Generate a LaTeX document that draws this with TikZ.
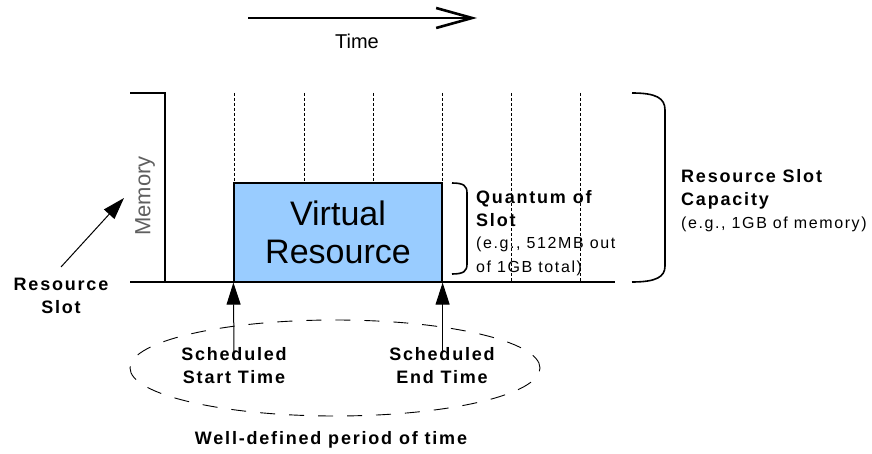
\documentclass[tikz,border=0pt]{standalone}
\usepackage{fontspec}
\setmainfont{Liberation Sans}
\newfontfamily\spacedfont[LetterSpace=10]{Liberation Sans}
\usetikzlibrary{arrows.meta,shapes.geometric}
\definecolor{boxblue}{RGB}{153,204,255}
\definecolor{memgray}{RGB}{95,95,95}
\begin{document}
\begin{tikzpicture}[x=1pt,y=-1pt,
  lbl/.style={font=\spacedfont\fontsize{18}{23}\selectfont\bfseries, align=center, inner sep=0pt},
  sub/.style={font=\spacedfont\fontsize{16}{24}\selectfont, align=left, inner sep=0pt},
  tip/.style={-{Triangle[length=22pt,width=14pt]}, line width=1pt},
  axis/.style={line width=1.3pt},
  gridline/.style={line width=0.8pt, dash pattern=on 3pt off 2pt},
  bracket/.style={line width=1.6pt}]
\useasboundingbox (0,0) rectangle (872,454);

% time arrow
\coordinate (ta) at (248,18);
\coordinate (tb) at (477,18);
\draw[line width=2.6pt, -{Straight Barb[length=36pt,width=20pt,line width=2.6pt]}] (ta) -- (tb);
\node[font=\fontsize{20}{24}\selectfont] (time) at (357,41) {Time};

% grid lines
\foreach \i/\x in {1/234,2/304,3/373,4/442,5/511,6/580}{
  \coordinate (g\i t) at (\x,93);
  \coordinate (g\i b) at (\x,282);
  \draw[gridline] (g\i t) -- (g\i b);
}

% axes
\coordinate (ytl) at (130,93);
\coordinate (ytop) at (165,93);
\coordinate (ybot) at (165,282);
\coordinate (xl) at (130,282);
\coordinate (xr) at (615,282);
\draw[axis] (ytl) -- (ytop) -- (ybot);
\draw[axis] (xl) -- (xr);

% virtual resource box
\node[draw, line width=1.2pt, fill=boxblue, minimum width=208pt, minimum height=99pt, inner sep=0pt,
      font=\fontsize{34}{38}\selectfont, align=center] (vr) at (338,232.5) {Virtual\\Resource};

% memory label
\node[rotate=90, text=memgray, font=\fontsize{22}{24}\selectfont] (mem) at (145,196) {Memory};

% resource slot
\node[lbl] (rs) at (61,296) {Resource\\Slot};
\coordinate (rsa) at (61,267);
\coordinate (rsb) at (124,198);
\draw[tip] (rsa) -- (rsb);

% quantum bracket
\coordinate (qa) at (452,183);
\coordinate (qb) at (452,274);
\draw[bracket] (qa) .. controls (464,183) and (467,186) .. (467,193) -- (467,264)
  .. controls (467,271) and (464,274) .. (qb);
\node[lbl, align=left, anchor=west] (q) at (476,209) {Quantum of\\Slot};
\node[sub, anchor=west] (qs) at (476,256) {(e.g., 512MB out\\of 1GB total)};

% capacity bracket
\coordinate (ca) at (632,93);
\coordinate (cb) at (632,282);
\draw[bracket] (ca) .. controls (656,93) and (665,98) .. (665,110) -- (665,266)
  .. controls (665,277) and (656,282) .. (cb);
\node[lbl, align=left, anchor=west] (cap) at (681,189) {Resource Slot\\Capacity};
\node[sub, anchor=west] (caps) at (681,224) {(e.g., 1GB of memory)};

% scheduled times
\node[lbl] (st) at (234,366) {Scheduled\\Start Time};
\node[lbl] (et) at (442,366) {Scheduled\\End Time};
\draw[tip] ([yshift=-4pt]st.north) -- (vr.south west);
\draw[tip] ([yshift=-4pt]et.north -| vr.south east) -- (vr.south east);

% period ellipse
\node[draw, ellipse, line width=0.9pt, dash pattern=on 15pt off 14pt,
      minimum width=410pt, minimum height=96pt, inner sep=0pt] (per) at (335,368) {};
\node[lbl] (wd) at (331,440) {Well-defined period of time};
\end{tikzpicture}
\end{document}
